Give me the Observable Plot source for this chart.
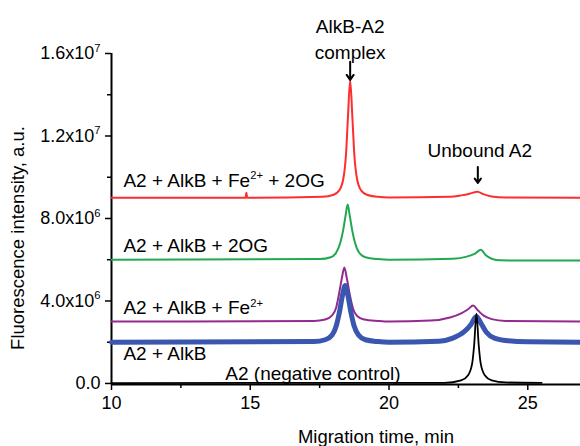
<!DOCTYPE html>
<html>
<head>
<meta charset="utf-8">
<script src="https://cdn.jsdelivr.net/npm/d3@7"></script>
<script src="https://cdn.jsdelivr.net/npm/@observablehq/plot@0.6"></script>
<style>
  html, body { margin: 0; padding: 0; background: #fff; }
  #chart { width: 580px; height: 446px; }
</style>
</head>
<body>
<div id="chart"></div>
<script>
// ---- data (migration time in min, fluorescence in a.u.) ----
const redT   = [10, 14.83, 14.86, 14.89, 17.6, 18.0, 18.2, 18.35, 18.45, 18.52, 18.60, 18.68, 18.75, 18.85, 19.0, 19.2, 19.6, 20.0, 22.2, 22.6, 22.9, 23.19, 23.4, 23.7, 24.2, 26.9];
const redV   = [9.0e6, 9.0e6, 9.25e6, 9.0e6, 9.05e6, 9.15e6, 9.35e6, 9.9e6, 11.1e6, 12.9e6, 14.7e6, 12.9e6, 11.1e6, 9.9e6, 9.35e6, 9.15e6, 9.05e6, 9.02e6, 9.05e6, 9.12e6, 9.2e6, 9.3e6, 9.18e6, 9.07e6, 9.02e6, 9.0e6];

const greenT = [10, 17.5, 17.9, 18.1, 18.25, 18.35, 18.43, 18.51, 18.59, 18.67, 18.77, 18.92, 19.15, 19.6, 20.0, 22.3, 22.8, 23.1, 23.31, 23.5, 23.7, 24.0, 26.9];
const greenV = [6.0e6, 6.03e6, 6.12e6, 6.35e6, 6.85e6, 7.45e6, 8.1e6, 8.68e6, 8.1e6, 7.45e6, 6.85e6, 6.35e6, 6.12e6, 6.03e6, 6.0e6, 6.05e6, 6.15e6, 6.3e6, 6.48e6, 6.2e6, 6.05e6, 5.97e6, 5.96e6];

const purpleT = [10, 17.3, 17.7, 17.95, 18.1, 18.2, 18.3, 18.39, 18.48, 18.58, 18.7, 18.85, 19.1, 19.6, 20.0, 21.5, 22.2, 22.6, 22.85, 23.03, 23.2, 23.4, 23.7, 24.2, 26.9];
const purpleV = [3.0e6, 3.03e6, 3.1e6, 3.3e6, 3.7e6, 4.35e6, 5.1e6, 5.62e6, 5.1e6, 4.35e6, 3.65e6, 3.27e6, 3.1e6, 3.03e6, 3.0e6, 3.05e6, 3.2e6, 3.4e6, 3.6e6, 3.78e6, 3.55e6, 3.3e6, 3.12e6, 3.03e6, 3.0e6];

const blueT = [10, 17.3, 17.7, 17.95, 18.1, 18.22, 18.32, 18.42, 18.52, 18.62, 18.74, 18.9, 19.15, 19.6, 20.0, 21.8, 22.3, 22.7, 22.95, 23.1, 23.15, 23.3, 23.5, 23.8, 24.3, 25.0, 26.9];
const blueV = [2.0e6, 2.03e6, 2.12e6, 2.35e6, 2.8e6, 3.5e6, 4.25e6, 4.75e6, 4.25e6, 3.5e6, 2.8e6, 2.35e6, 2.12e6, 2.03e6, 2.0e6, 2.05e6, 2.2e6, 2.5e6, 2.85e6, 3.2e6, 3.25e6, 2.95e6, 2.5e6, 2.2e6, 2.07e6, 2.02e6, 2.0e6];

const blackT = [10, 22.0, 22.6, 22.85, 23.0, 23.07, 23.15, 23.23, 23.3, 23.45, 23.7, 24.2, 25.5];
const blackV = [0.02e6, 0.03e6, 0.15e6, 0.4e6, 1.0e6, 1.9e6, 3.39e6, 1.9e6, 1.0e6, 0.4e6, 0.15e6, 0.05e6, 0.03e6];

const seriesNames  = ["A2 + AlkB + Fe^2+^", "A2 + AlkB", "A2 (negative control)", "A2 + AlkB + 2OG", "A2 + AlkB + Fe^2+^ + 2OG"];
const seriesColors = ["#922a91", "#3a56ae", "#000000", "#22a850", "#ff2e2e"];
const seriesWidths = [2, 5, 1.8, 2, 2];
const seriesT = [purpleT, blueT, blackT, greenT, redT];
const seriesV = [purpleV, blueV, blackV, greenV, redV];

// series label anchors (data units)
const labelX = [10.43, 10.43, 14.1, 10.43, 10.43];
const labelY = [3.64e6, 1.45e6, 0.48e6, 6.69e6, 9.84e6];

// peak annotations (data units)
const annText  = ["AlkB-A2", "complex", "Unbound A2"];
const annX     = [18.6, 18.6, 23.27];
const annY     = [17.3e6, 16.05e6, 11.3e6];
const arrowX   = [18.6, 23.2];
const arrowY1  = [15.6e6, 10.5e6];
const arrowY2  = [14.72e6, 9.72e6];

const xTicks = [10, 15, 20, 25];
const xMinor = [12.5, 17.5, 22.5];
const yTicks = [0, 4e6, 8e6, 12e6, 16e6];
const yMinor = [2e6, 6e6, 10e6, 14e6];

const xDomain = [10, 26.9];
const yDomain = [-0.05e6, 16e6];

// ---- build ----
const lineData = seriesNames.map((name, i) => seriesT[i].map((t, j) => ({name, t, v: seriesV[i][j]})));
const labels = seriesNames.map((name, i) => ({name, x: labelX[i], y: labelY[i]}));
const anns = annText.map((s, i) => ({s, x: annX[i], y: annY[i]}));
const arrows = arrowX.map((x, i) => ({x, y1: arrowY1[i], y2: arrowY2[i]}));

function fmtY(d) {
  if (d === 0) return "0.0";
  const e = Math.floor(Math.log10(d));
  return (d / Math.pow(10, e)).toFixed(1) + "x10^" + e + "^";
}

const FONT = "'Liberation Sans', Arial, Helvetica, sans-serif";

const plot = Plot.plot({
  width: 580,
  height: 446,
  marginLeft: 111,
  marginRight: 0,
  marginTop: 53,
  marginBottom: 62,
  style: {fontFamily: FONT, fontSize: "18px", color: "#000", background: "#fff", overflow: "visible"},
  x: {domain: xDomain},
  y: {domain: yDomain},
  marks: [
    Plot.axisY(yMinor, {tickSize: 4, strokeWidth: 1.5, text: null, label: null}),
    Plot.axisY(yTicks, {tickSize: 6, strokeWidth: 1.5, tickPadding: 5, tickFormat: fmtY, fontSize: 18, label: null}),
    Plot.axisX(xMinor, {tickSize: 4, strokeWidth: 1.5, text: null, label: null}),
    Plot.axisX(xTicks, {tickSize: 6, strokeWidth: 1.5, tickPadding: 6, fontSize: 18, label: null}),
    Plot.ruleX([xDomain[0]], {y1: yDomain[0], y2: yDomain[1], stroke: "#000", strokeWidth: 2}),
    Plot.ruleY([yDomain[0]], {x1: xDomain[0], x2: xDomain[1], stroke: "#000", strokeWidth: 2}),
    ...lineData.map((d, i) => Plot.line(d, {x: "t", y: "v", stroke: seriesColors[i], strokeWidth: seriesWidths[i], curve: "monotone-x", strokeLinejoin: "round"})),
    Plot.text(labels, {x: "x", y: "y", text: "name", textAnchor: "start", fontSize: 19, fill: "#000"}),
    Plot.text(anns, {x: "x", y: "y", text: "s", fontSize: 19, fill: "#000"}),
    Plot.arrow(arrows, {x1: "x", x2: "x", y1: "y1", y2: "y2", stroke: "#000", strokeWidth: 2, headLength: 9, headAngle: 70}),
    Plot.text(["Fluorescence intensity, a.u."], {frameAnchor: "left", textAnchor: "middle", lineAnchor: "middle", dx: -93, dy: 19, rotate: -90, fontSize: 18.5, fill: "#000"}),
    Plot.text(["Migration time, min"], {frameAnchor: "bottom", textAnchor: "middle", lineAnchor: "middle", dx: 30, dy: 53, fontSize: 18.5, fill: "#000"})
  ]
});

// superscripts: "base^sup^rest"
plot.querySelectorAll("text").forEach(t => {
  const s = t.textContent;
  if (!s.includes("^")) return;
  const fs = parseFloat(t.getAttribute("font-size") || getComputedStyle(t).fontSize) || 18;
  const parts = s.split("^");
  while (t.firstChild) t.removeChild(t.firstChild);
  const ns = "http://www.w3.org/2000/svg";
  let shift = 0;
  parts.forEach((p, k) => {
    if (p === "") return;
    const ts = document.createElementNS(ns, "tspan");
    ts.textContent = p;
    const sup = k % 2 === 1;
    const target = sup ? -0.42 * fs : 0;
    if (target !== shift) { ts.setAttribute("dy", (target - shift).toFixed(2)); shift = target; }
    if (sup) ts.setAttribute("font-size", (0.62 * fs).toFixed(1));
    t.appendChild(ts);
  });
});

document.getElementById("chart").appendChild(plot);
</script>
</body>
</html>
